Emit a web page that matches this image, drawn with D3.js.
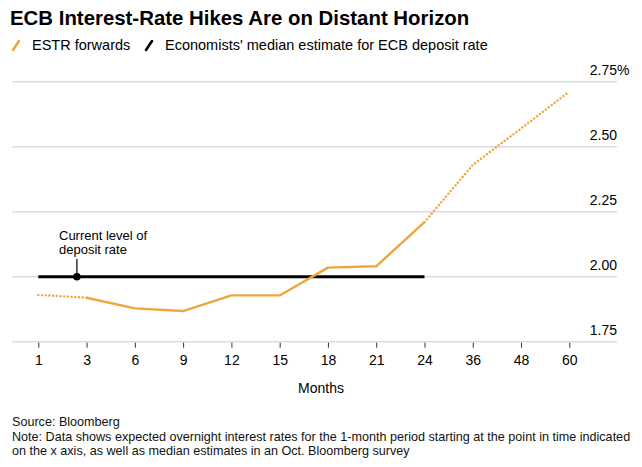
<!DOCTYPE html>
<html><head><meta charset="utf-8">
<script src="https://cdn.jsdelivr.net/npm/d3@7"></script>
<style>
html,body{margin:0;padding:0;background:#fff;}
svg{display:block;font-family:"Liberation Sans",Arial,sans-serif;}
</style></head>
<body>
<svg id="chart" width="642" height="467"></svg>
<script>
const months = ["1","3","6","9","12","15","18","21","24","36","48","60"];
const estrForwards = [1.93, 1.919, 1.878, 1.868, 1.928, 1.928, 2.035, 2.04, 2.21, 2.43, 2.57, 2.712];
const economistsMonths = ["1","24"];
const economistsValues = [2.00, 2.00];
const yTicks = [1.75, 2.00, 2.25, 2.50, 2.75];
const currentRateIndex = 0.8;   // position between month 1 and 3
const currentRate = 2.00;
const title = "ECB Interest-Rate Hikes Are on Distant Horizon";
const legendLabels = ["ESTR forwards", "Economists' median estimate for ECB deposit rate"];
const notes = ["Source: Bloomberg",
  "Note: Data shows expected overnight interest rates for the 1-month period starting at the point in time indicated",
  "on the x axis, as well as median estimates in an Oct. Bloomberg survey"];

const orange = "#f0a53c";
const svg = d3.select("#chart");

const x = d3.scalePoint().domain(months).range([38.3, 569.3]);
const xi = d3.scaleLinear().domain([0, months.length - 1]).range(x.range());
const y = d3.scaleLinear().domain([1.75, 2.75]).range([341.7, 81.7]);

// title
svg.append("text").attr("x", 10).attr("y", 25).attr("font-size", 20.4).attr("font-weight", "bold")
  .attr("fill", "#000").text(title);

// legend
const leg = svg.append("g");
leg.append("line").attr("x1", 13).attr("y1", 50).attr("x2", 19).attr("y2", 41)
  .attr("stroke", orange).attr("stroke-width", 2.5).attr("stroke-linecap", "round");
leg.append("text").attr("x", 32).attr("y", 50).attr("font-size", 14.5).text(legendLabels[0]);
leg.append("line").attr("x1", 146).attr("y1", 50).attr("x2", 152).attr("y2", 41)
  .attr("stroke", "#000").attr("stroke-width", 2.5).attr("stroke-linecap", "round");
leg.append("text").attr("x", 165).attr("y", 50).attr("font-size", 14.5).text(legendLabels[1]);

// grid
svg.append("g").selectAll("line").data(yTicks).join("line")
  .attr("x1", 12).attr("x2", 617).attr("y1", d => y(d)).attr("y2", d => y(d))
  .attr("stroke", "#dcdcdc").attr("stroke-width", 1.6);
svg.append("g").selectAll("text").data(yTicks).join("text")
  .attr("x", 617).attr("y", d => y(d) - 7).attr("text-anchor", "end")
  .attr("font-size", 14).attr("fill", "#000")
  .text(d => d.toFixed(2));
svg.append("text").attr("x", 617).attr("y", y(yTicks[yTicks.length - 1]) - 7)
  .attr("font-size", 14).attr("fill", "#000").text("%");

// x axis
const xAxis = d3.axisBottom(x).tickSize(5).tickPadding(7);
const gx = svg.append("g").attr("transform", `translate(0,${y(1.75)+1})`).call(xAxis);
gx.select(".domain").remove();
gx.selectAll(".tick line").attr("stroke", "#333").attr("stroke-width", 1);
gx.selectAll(".tick text").attr("font-size", 14).attr("fill", "#000")
  .attr("font-family", "Liberation Sans, Arial, sans-serif");

svg.append("text").attr("x", 321).attr("y", 393).attr("text-anchor", "middle")
  .attr("font-size", 14).text("Months");

// economists line
const ecoLine = d3.line().x(d => x(d[0])).y(d => y(d[1]));
svg.append("path").datum(economistsMonths.map((m, i) => [m, economistsValues[i]]))
  .attr("d", ecoLine).attr("fill", "none").attr("stroke", "#000").attr("stroke-width", 3);

// ESTR forwards
const pts = months.map((m, i) => [m, estrForwards[i]]);
const line = d3.line().x(d => x(d[0])).y(d => y(d[1]));
const dotStyle = p => p.attr("fill", "none").attr("stroke", orange).attr("stroke-width", 2.4)
  .attr("stroke-dasharray", "0.1,3.6").attr("stroke-linecap", "round");
svg.append("path").datum(pts.slice(0, 2)).attr("d", line).call(dotStyle);
svg.append("path").datum(pts.slice(8)).attr("d", line).call(dotStyle);
svg.append("path").datum(pts.slice(1, 9)).attr("d", line).attr("fill", "none")
  .attr("stroke", orange).attr("stroke-width", 2.4).attr("stroke-linejoin", "round");

// annotation
const ax = xi(currentRateIndex), ay = y(currentRate);
svg.append("line").attr("x1", ax).attr("x2", ax).attr("y1", 259).attr("y2", ay)
  .attr("stroke", "#000").attr("stroke-width", 1.2);
svg.append("circle").attr("cx", ax).attr("cy", ay).attr("r", 3.8).attr("fill", "#000");
svg.append("text").attr("x", 59).attr("y", 240).attr("font-size", 13).text("Current level of");
svg.append("text").attr("x", 59).attr("y", 254).attr("font-size", 13).text("deposit rate");

// footer
notes.forEach((t, i) => {
  svg.append("text").attr("x", 12).attr("y", 426 + i * 14.6).attr("font-size", 12.6)
    .attr("fill", "#111").text(t);
});
</script>
</body></html>
